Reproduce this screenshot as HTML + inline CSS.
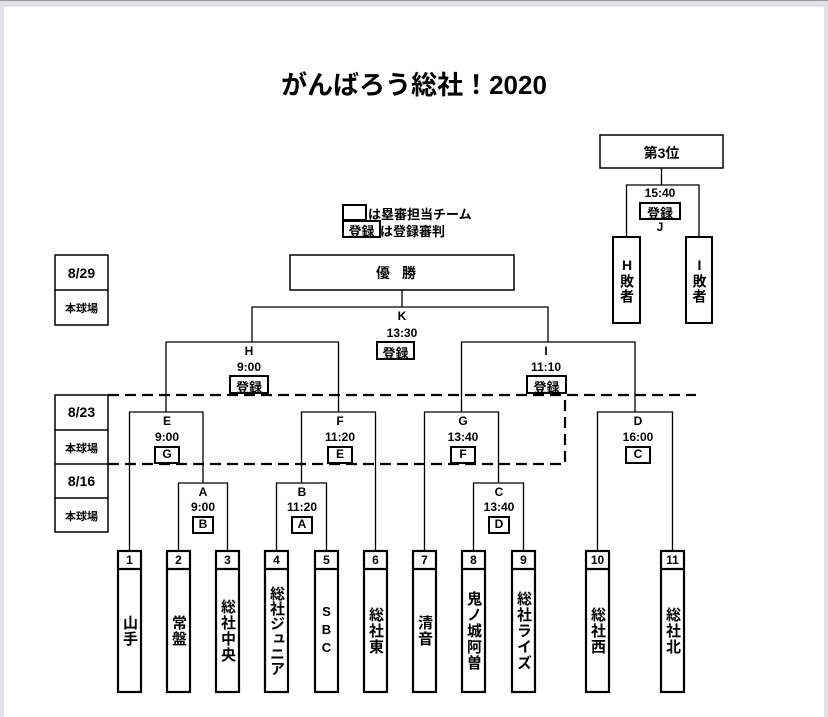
<!DOCTYPE html>
<html><head><meta charset="utf-8">
<style>
html,body{margin:0;padding:0;}
body{width:828px;height:710px;background:#e2e1e6;position:relative;overflow:hidden;font-family:"Liberation Sans","Noto Sans CJK JP",sans-serif;}
.topline{position:absolute;left:0;top:0;width:828px;height:1px;background:#9a98a0;}
.page{position:absolute;left:4px;top:7px;width:820px;height:710px;background:#fff;}
svg{position:absolute;left:0;top:0;}
.t{position:absolute;font-weight:bold;color:#000;text-align:center;white-space:nowrap;}
.n{font-weight:bold !important;}
.v{position:absolute;writing-mode:vertical-rl;text-orientation:upright;font-weight:bold;font-size:15px;line-height:23px;display:flex;align-items:center;justify-content:center;letter-spacing:1px;}
</style></head><body>
<div class="topline"></div>
<div class="page"></div>
<svg width="828" height="710" viewBox="0 0 828 710" fill="none" stroke="#000">
<g stroke-width="1.3">
<path d="M178.5 551V483H227.5V551"/>
<path d="M276.5 551V483H326.5V551"/>
<path d="M473.5 551V483H523.5V551"/>
<path d="M203 483V464M301.5 483V464M498.5 483V464"/>
<path d="M129.5 551V412H203V464"/>
<path d="M301.5 464V412H375.5V551"/>
<path d="M424.5 551V412H498.5V464"/>
<path d="M597.5 551V412H672.5V551"/>
<path d="M166 412V342H338.5V412"/>
<path d="M461.5 412V342H635V412"/>
<path d="M252 342V307H548V342"/>
<path d="M402 290V307"/>
<path d="M661.5 168V185"/>
<path d="M626.5 237V185H699V237"/>
</g>
<g stroke-width="2.2" stroke-dasharray="11,6">
<path d="M108 395H696"/>
<path d="M108 464H565V395"/>
</g>
<g stroke-width="1.5">
<rect x="290" y="255" width="224" height="35" fill="#fff"/>
<rect x="600" y="135" width="123" height="33" fill="#fff"/>
<rect x="55" y="255" width="53" height="70" fill="#fff"/>
<path d="M55 290H108"/>
<rect x="55" y="395" width="53" height="137" fill="#fff"/>
<path d="M55 430H108M55 464H108M55 498H108"/>
</g>
<g stroke-width="2">
<rect x="343" y="205" width="23" height="15" fill="#fff"/>
<rect x="343" y="221" width="37" height="16" fill="#fff"/>
<rect x="377" y="342" width="37" height="17" fill="#fff"/>
<rect x="230" y="376" width="38" height="17" fill="#fff"/>
<rect x="527" y="376" width="39" height="17" fill="#fff"/>
<rect x="640" y="203" width="40" height="16" fill="#fff"/>
<rect x="155" y="447" width="24" height="16" fill="#fff"/>
<rect x="328" y="447" width="24" height="16" fill="#fff"/>
<rect x="451" y="447" width="24" height="16" fill="#fff"/>
<rect x="626" y="447" width="24" height="16" fill="#fff"/>
<rect x="193" y="517" width="20" height="16" fill="#fff"/>
<rect x="292" y="517" width="20" height="16" fill="#fff"/>
<rect x="489" y="517" width="20" height="16" fill="#fff"/>
<rect x="613" y="237" width="27" height="86" fill="#fff"/>
<rect x="686" y="237" width="26" height="86" fill="#fff"/>
</g>
<g stroke-width="2.2" fill="#fff">
<rect x="118" y="551" width="23" height="141"/><path d="M118 569H141"/>
<rect x="167" y="551" width="23" height="141"/><path d="M167 569H190"/>
<rect x="216" y="551" width="23" height="141"/><path d="M216 569H239"/>
<rect x="265" y="551" width="23" height="141"/><path d="M265 569H288"/>
<rect x="315" y="551" width="23" height="141"/><path d="M315 569H338"/>
<rect x="364" y="551" width="23" height="141"/><path d="M364 569H387"/>
<rect x="413" y="551" width="23" height="141"/><path d="M413 569H436"/>
<rect x="462" y="551" width="23" height="141"/><path d="M462 569H485"/>
<rect x="512" y="551" width="23" height="141"/><path d="M512 569H535"/>
<rect x="586" y="551" width="23" height="141"/><path d="M586 569H609"/>
<rect x="661" y="551" width="23" height="141"/><path d="M661 569H684"/>
</g>
</svg>

<div class="t" style="left:214px;top:65px;width:400px;font-size:26px;">がんばろう総社！2020</div>

<div class="t" style="left:368px;top:204px;font-size:13px;">は塁審担当チーム</div>
<div class="t" style="left:380px;top:221px;font-size:13px;">は登録審判</div>
<div class="t" style="left:343px;top:221px;width:37px;font-size:13px;">登録</div>

<div class="t" style="left:290px;top:263px;width:224px;font-size:14px;letter-spacing:12px;">優勝</div>
<div class="t" style="left:600px;top:143px;width:123px;font-size:14px;">第3位</div>

<div class="t" style="left:55px;top:265px;width:53px;font-size:14px;">8/29</div>
<div class="t" style="left:55px;top:300px;width:53px;font-size:11px;">本球場</div>
<div class="t" style="left:55px;top:404px;width:53px;font-size:14px;">8/23</div>
<div class="t" style="left:55px;top:440px;width:53px;font-size:11px;">本球場</div>
<div class="t" style="left:55px;top:473px;width:53px;font-size:14px;">8/16</div>
<div class="t" style="left:55px;top:508px;width:53px;font-size:11px;">本球場</div>

<div class="t" style="left:372px;top:309px;width:60px;font-size:12px;">K</div>
<div class="t" style="left:372px;top:326px;width:60px;font-size:12px;">13:30</div>
<div class="t" style="left:377px;top:343px;width:37px;font-size:13px;">登録</div>
<div class="t" style="left:219px;top:344px;width:60px;font-size:12px;">H</div>
<div class="t" style="left:219px;top:360px;width:60px;font-size:12px;">9:00</div>
<div class="t" style="left:230px;top:377px;width:38px;font-size:13px;">登録</div>
<div class="t" style="left:516px;top:344px;width:60px;font-size:12px;">I</div>
<div class="t" style="left:516px;top:360px;width:60px;font-size:12px;">11:10</div>
<div class="t" style="left:527px;top:377px;width:39px;font-size:13px;">登録</div>
<div class="t" style="left:630px;top:186px;width:60px;font-size:12px;">15:40</div>
<div class="t" style="left:640px;top:203px;width:40px;font-size:13px;">登録</div>
<div class="t" style="left:630px;top:220px;width:60px;font-size:12px;">J</div>

<div class="t" style="left:137px;top:414px;width:60px;font-size:12px;">E</div>
<div class="t" style="left:137px;top:430px;width:60px;font-size:12px;">9:00</div>
<div class="t" style="left:155px;top:447px;width:24px;font-size:12px;">G</div>
<div class="t" style="left:310px;top:414px;width:60px;font-size:12px;">F</div>
<div class="t" style="left:310px;top:430px;width:60px;font-size:12px;">11:20</div>
<div class="t" style="left:328px;top:447px;width:24px;font-size:12px;">E</div>
<div class="t" style="left:433px;top:414px;width:60px;font-size:12px;">G</div>
<div class="t" style="left:433px;top:430px;width:60px;font-size:12px;">13:40</div>
<div class="t" style="left:451px;top:447px;width:24px;font-size:12px;">F</div>
<div class="t" style="left:608px;top:414px;width:60px;font-size:12px;">D</div>
<div class="t" style="left:608px;top:430px;width:60px;font-size:12px;">16:00</div>
<div class="t" style="left:626px;top:447px;width:24px;font-size:12px;">C</div>

<div class="t" style="left:173px;top:485px;width:60px;font-size:12px;">A</div>
<div class="t" style="left:173px;top:500px;width:60px;font-size:12px;">9:00</div>
<div class="t" style="left:193px;top:517px;width:20px;font-size:12px;">B</div>
<div class="t" style="left:272px;top:485px;width:60px;font-size:12px;">B</div>
<div class="t" style="left:272px;top:500px;width:60px;font-size:12px;">11:20</div>
<div class="t" style="left:292px;top:517px;width:20px;font-size:12px;">A</div>
<div class="t" style="left:469px;top:485px;width:60px;font-size:12px;">C</div>
<div class="t" style="left:469px;top:500px;width:60px;font-size:12px;">13:40</div>
<div class="t" style="left:489px;top:517px;width:20px;font-size:12px;">D</div>

<div class="t" style="left:118px;top:553px;width:23px;font-size:12px;">1</div>
<div class="t" style="left:167px;top:553px;width:23px;font-size:12px;">2</div>
<div class="t" style="left:216px;top:553px;width:23px;font-size:12px;">3</div>
<div class="t" style="left:265px;top:553px;width:23px;font-size:12px;">4</div>
<div class="t" style="left:315px;top:553px;width:23px;font-size:12px;">5</div>
<div class="t" style="left:364px;top:553px;width:23px;font-size:12px;">6</div>
<div class="t" style="left:413px;top:553px;width:23px;font-size:12px;">7</div>
<div class="t" style="left:462px;top:553px;width:23px;font-size:12px;">8</div>
<div class="t" style="left:512px;top:553px;width:23px;font-size:12px;">9</div>
<div class="t" style="left:586px;top:553px;width:23px;font-size:12px;">10</div>
<div class="t" style="left:661px;top:553px;width:23px;font-size:12px;">11</div>

<div class="v" style="left:118px;top:570px;width:23px;height:122px;">山手</div>
<div class="v" style="left:167px;top:570px;width:23px;height:122px;">常盤</div>
<div class="v" style="left:216px;top:570px;width:23px;height:122px;">総社中央</div>
<div class="v" style="left:265px;top:570px;width:23px;height:122px;letter-spacing:0;">総社ジュニア</div>
<div class="v" style="left:315px;top:570px;width:23px;height:122px;font-size:13px;letter-spacing:3px;">SBC</div>
<div class="v" style="left:364px;top:570px;width:23px;height:122px;">総社東</div>
<div class="v" style="left:413px;top:570px;width:23px;height:122px;">清音</div>
<div class="v" style="left:462px;top:570px;width:23px;height:122px;">鬼ノ城阿曽</div>
<div class="v" style="left:512px;top:570px;width:23px;height:122px;">総社ライズ</div>
<div class="v" style="left:586px;top:570px;width:23px;height:122px;">総社西</div>
<div class="v" style="left:661px;top:570px;width:23px;height:122px;">総社北</div>

<div class="v" style="left:613px;top:238px;width:27px;height:85px;font-size:14px;">H敗者</div>
<div class="v" style="left:686px;top:238px;width:26px;height:85px;font-size:14px;">I敗者</div>
</body></html>
